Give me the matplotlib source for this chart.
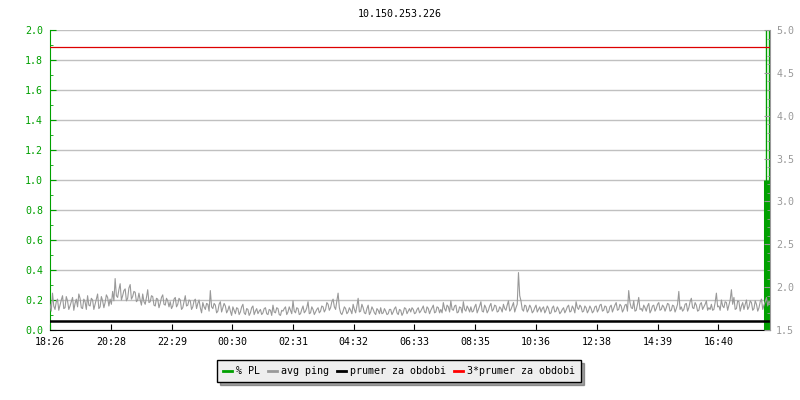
import matplotlib
matplotlib.use('Agg')
import matplotlib.pyplot as plt
from matplotlib.lines import Line2D

title = '10.150.253.226'
tick_labels = ['18:26', '20:28', '22:29', '00:30', '02:31', '04:32',
               '06:33', '08:35', '10:36', '12:38', '14:39', '16:40']

# avg ping [ms] on the 5-minute marks from 18:26 (12 per hour)
ping_on = [
    1.80, 1.93, 1.74, 1.86, 1.79, 1.90, 1.76, 1.84, 1.78, 1.88, 1.81, 1.77,
    1.87, 1.75, 1.83, 1.90, 1.78, 1.85, 1.80, 1.92, 1.77, 1.84, 1.82, 1.88,
    1.86, 1.95, 2.10, 1.88, 2.04, 1.90, 1.98, 1.87, 2.03, 1.89, 1.94, 1.85,
    1.85, 1.92, 1.80, 1.97, 1.83, 1.89, 1.78, 1.86, 1.81, 1.91, 1.79, 1.84,
    1.83, 1.78, 1.88, 1.80, 1.85, 1.76, 1.90, 1.79, 1.84, 1.77, 1.86, 1.81,
    1.76, 1.82, 1.74, 1.80, 1.96, 1.75, 1.79, 1.72, 1.83, 1.76, 1.78, 1.73,
    1.72, 1.77, 1.69, 1.75, 1.71, 1.80, 1.68, 1.74, 1.70, 1.78, 1.72, 1.69,
    1.74, 1.70, 1.76, 1.68, 1.73, 1.79, 1.70, 1.75, 1.67, 1.72, 1.77, 1.71,
    1.73, 1.84, 1.70, 1.75, 1.69, 1.78, 1.72, 1.83, 1.70, 1.74, 1.71, 1.76,
    1.72, 1.77, 1.74, 1.80, 1.76, 1.86, 1.74, 1.93, 1.70, 1.72, 1.75, 1.71,
    1.73, 1.80, 1.70, 1.87, 1.72, 1.76, 1.69, 1.79, 1.71, 1.74, 1.68, 1.73,
    1.76, 1.70, 1.72, 1.69, 1.74, 1.71, 1.77, 1.68, 1.73, 1.70, 1.75, 1.72,
    1.71, 1.74, 1.70, 1.76, 1.72, 1.78, 1.70, 1.75, 1.73, 1.79, 1.71, 1.76,
    1.74, 1.82, 1.72, 1.77, 1.84, 1.73, 1.79, 1.71, 1.76, 1.83, 1.72, 1.75,
    1.77, 1.72, 1.80, 1.74, 1.83, 1.71, 1.76, 1.73, 1.81, 1.74, 1.78, 1.72,
    1.75, 1.80, 1.73, 1.84, 1.74, 1.82, 1.76, 2.17, 1.84, 1.72, 1.78, 1.74,
    1.76, 1.72, 1.79, 1.74, 1.71, 1.77, 1.73, 1.75, 1.70, 1.78, 1.72, 1.74,
    1.71, 1.76, 1.73, 1.79, 1.72, 1.75, 1.83, 1.74, 1.77, 1.72, 1.76, 1.73,
    1.75, 1.72, 1.78, 1.74, 1.80, 1.73, 1.77, 1.71, 1.79, 1.75, 1.82, 1.74,
    1.78, 1.74, 1.80, 1.96, 1.76, 1.84, 1.73, 1.88, 1.75, 1.79, 1.72, 1.81,
    1.73, 1.79, 1.75, 1.82, 1.74, 1.77, 1.76, 1.80, 1.73, 1.78, 1.75, 1.95,
    1.77, 1.74, 1.81, 1.76, 1.87, 1.75, 1.79, 1.73, 1.82, 1.77, 1.84, 1.76,
    1.80, 1.74, 1.93, 1.78, 1.85, 1.76, 1.82, 1.79, 1.97, 1.88, 1.75, 1.83,
    1.78, 1.74, 1.85, 1.77, 1.82, 1.75, 1.80, 1.76, 1.86, 1.79, 1.88, 1.84,
]

# avg ping [ms] halfway between the 5-minute marks
ping_mid = [
    1.72, 1.78, 1.83, 1.73, 1.85, 1.75, 1.89, 1.74, 1.83, 1.73, 1.86, 1.92,
    1.76, 1.86, 1.74, 1.79, 1.87, 1.74, 1.86, 1.75, 1.89, 1.76, 1.91, 1.78,
    1.80, 1.84, 1.90, 1.97, 1.85, 1.96, 1.84, 1.99, 1.86, 1.95, 1.83, 1.93,
    1.79, 1.83, 1.88, 1.82, 1.90, 1.79, 1.87, 1.76, 1.88, 1.80, 1.87, 1.77,
    1.75, 1.86, 1.77, 1.87, 1.74, 1.83, 1.78, 1.85, 1.74, 1.84, 1.75, 1.85,
    1.70, 1.77, 1.81, 1.72, 1.77, 1.81, 1.70, 1.80, 1.71, 1.81, 1.70, 1.78,
    1.67, 1.73, 1.76, 1.68, 1.77, 1.70, 1.75, 1.67, 1.76, 1.68, 1.75, 1.72,
    1.68, 1.75, 1.69, 1.74, 1.67, 1.71, 1.76, 1.68, 1.73, 1.75, 1.68, 1.77,
    1.69, 1.72, 1.76, 1.68, 1.74, 1.70, 1.76, 1.69, 1.77, 1.68, 1.74, 1.70,
    1.78, 1.71, 1.82, 1.73, 1.83, 1.77, 1.84, 1.76, 1.68, 1.77, 1.69, 1.76,
    1.69, 1.74, 1.78, 1.71, 1.80, 1.70, 1.75, 1.68, 1.77, 1.70, 1.75, 1.69,
    1.69, 1.75, 1.68, 1.74, 1.68, 1.75, 1.70, 1.74, 1.67, 1.76, 1.69, 1.75,
    1.76, 1.69, 1.74, 1.70, 1.75, 1.71, 1.77, 1.69, 1.76, 1.70, 1.77, 1.70,
    1.70, 1.75, 1.79, 1.71, 1.74, 1.78, 1.70, 1.77, 1.70, 1.74, 1.78, 1.71,
    1.71, 1.77, 1.70, 1.78, 1.72, 1.79, 1.70, 1.78, 1.72, 1.79, 1.71, 1.77,
    1.71, 1.75, 1.79, 1.72, 1.78, 1.71, 1.80, 1.90, 1.74, 1.79, 1.71, 1.79,
    1.70, 1.76, 1.71, 1.77, 1.75, 1.70, 1.78, 1.69, 1.76, 1.71, 1.77, 1.69,
    1.74, 1.70, 1.77, 1.71, 1.78, 1.70, 1.76, 1.79, 1.71, 1.78, 1.70, 1.78,
    1.70, 1.77, 1.71, 1.79, 1.72, 1.78, 1.70, 1.77, 1.71, 1.79, 1.73, 1.80,
    1.71, 1.79, 1.72, 1.82, 1.75, 1.72, 1.80, 1.74, 1.72, 1.76, 1.78, 1.70,
    1.78, 1.72, 1.80, 1.73, 1.79, 1.72, 1.81, 1.72, 1.79, 1.71, 1.80, 1.74,
    1.72, 1.80, 1.72, 1.83, 1.76, 1.82, 1.72, 1.80, 1.74, 1.80, 1.73, 1.74,
    1.73, 1.82, 1.77, 1.73, 1.78, 1.83, 1.73, 1.85, 1.80, 1.74, 1.84, 1.72,
    1.82, 1.80, 1.74, 1.84, 1.73, 1.84, 1.72, 1.83, 1.74, 1.83, 1.78, 1.80,
]

ping_minutes = []
ping = []
for i, (a, b) in enumerate(zip(ping_on, ping_mid)):
    ping_minutes += [5 * i, 5 * i + 2.5]
    ping += [a, b]

# packet loss [%] at the end of the period
pl_minutes = [1427, 1429, 1434, 1436]
pl_values = [1.0, 2.0, 1.0, 2.0]
pl_widths = [2.2, 1.0, 2.2, 1.0]

mean_ping = 1.6
triple_mean = 3 * mean_ping

GREEN = '#00a000'
GREY = '#999999'
FONT = 'DejaVu Sans Mono'
FS = 7.2


def tick_minutes(labels):
    out = []
    h0, m0 = map(int, labels[0].split(':'))
    for lab in labels:
        h, m = map(int, lab.split(':'))
        out.append(((h * 60 + m) - (h0 * 60 + m0)) % 1440)
    return out


fig = plt.figure(figsize=(8, 4), dpi=100)
ax = fig.add_axes([50 / 800, 70 / 400, 720 / 800, 300 / 400])
ax2 = ax.twinx()

# left axis: packet loss
ax.vlines(pl_minutes, 0, pl_values, colors=GREEN, linewidths=pl_widths, zorder=3)
ax.set_ylim(0, 2.0)
ax.set_yticks([0.2 * i for i in range(11)])
ax.set_yticks([0.1 * i for i in range(21)], minor=True)
ax.set_yticklabels(['%.1f' % (0.2 * i) for i in range(11)])
ax.grid(axis='y', color='#c0c0c0', linewidth=1)
ax.set_axisbelow(True)
ax.tick_params(axis='y', which='both', direction='in', colors=GREEN,
               labelcolor=GREEN, labelsize=FS, pad=5)
ax.tick_params(axis='y', which='major', length=4)
ax.tick_params(axis='y', which='minor', length=2.5)
ax.spines['left'].set_color(GREEN)
ax.spines['top'].set_visible(False)
ax.spines['right'].set_visible(False)

ax.set_xlim(0, 1437)
ax.set_xticks(tick_minutes(tick_labels))
ax.set_xticklabels(tick_labels)
ax.tick_params(axis='x', direction='in', length=4, labelsize=FS, pad=5, color='black')
ax.spines['bottom'].set_color('black')

# right axis: ping
ax2.plot(ping_minutes, ping, color=GREY, linewidth=0.8)
ax2.axhline(mean_ping, color='black', linewidth=1.8)
ax2.axhline(triple_mean, color='#dd0000', linewidth=0.9)
ax2.set_ylim(1.5, 5.0)
ax2.set_yticks([1.5 + 0.5 * i for i in range(8)])
ax2.set_yticks([1.5 + 0.1 * i for i in range(36)], minor=True)
ax2.set_yticklabels(['%.1f' % (1.5 + 0.5 * i) for i in range(8)])
ax2.tick_params(axis='y', which='both', direction='in', colors=GREY,
                labelcolor=GREY, labelsize=FS, pad=4.5)
ax2.tick_params(axis='y', which='major', length=4)
ax2.tick_params(axis='y', which='minor', length=2.5)
ax2.spines['right'].set_color(GREY)
for s in ['left', 'top', 'bottom']:
    ax2.spines[s].set_visible(False)

for a in (ax, ax2):
    for lab in a.get_xticklabels() + a.get_yticklabels():
        lab.set_fontfamily(FONT)

fig.text(0.5, 1 - 14 / 400, title, ha='center', va='center',
         fontsize=FS, family=FONT)

handles = [Line2D([], [], color=GREEN, linewidth=2),
           Line2D([], [], color=GREY, linewidth=2),
           Line2D([], [], color='black', linewidth=2),
           Line2D([], [], color='#ff0000', linewidth=2)]
names = ['% PL', 'avg ping', 'prumer za obdobi', '3*prumer za obdobi']
leg = fig.legend(handles, names, loc='center', bbox_to_anchor=(0.499, 1 - 371 / 400),
                 ncol=4, prop={'family': FONT, 'size': FS}, frameon=True,
                 fancybox=False, shadow=True, edgecolor='black', facecolor='#eeeeee',
                 framealpha=1, handlelength=0.9, handletextpad=0.4,
                 columnspacing=0.8, borderpad=0.6)
leg.get_frame().set_linewidth(1)

fig.savefig('out.png', dpi=100)
